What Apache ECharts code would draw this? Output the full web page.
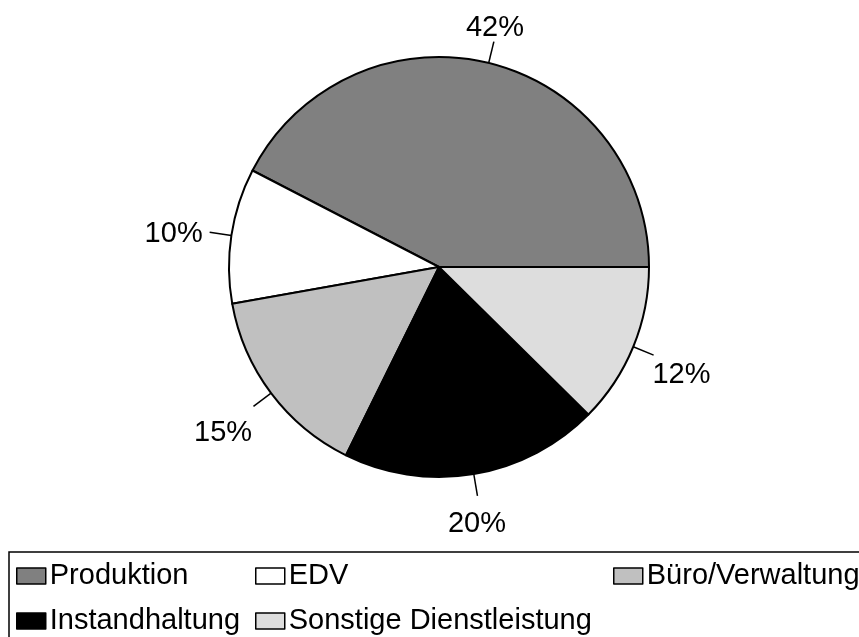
<!DOCTYPE html>
<html>
<head>
<meta charset="utf-8">
<script src="https://cdn.jsdelivr.net/npm/echarts@6/dist/echarts.min.js"></script>
<style>
html,body{margin:0;padding:0;background:#fff;}
#chart{width:859px;height:637px;}
</style>
</head>
<body>
<div id="chart"></div>
<script>
const categories = ['Produktion', 'EDV', 'Büro/Verwaltung', 'Instandhaltung', 'Sonstige Dienstleistung'];
const shares = [42.4, 10.4, 14.9, 19.9, 12.4];
const colors = ['#808080', '#ffffff', '#c0c0c0', '#000000', '#dddddd'];

const FONT = '"Liberation Sans", Arial, sans-serif';
const chart = echarts.init(document.getElementById('chart'), null, {renderer: 'canvas'});

const legendBase = {
  orient: 'vertical',
  itemWidth: 29,
  itemHeight: 16,
  itemGap: 13,
  icon: 'rect',
  selectedMode: false,
  padding: 0,
  textStyle: {fontSize: 29, fontFamily: FONT, color: '#000', padding: [0, 0, 0, -1], lineHeight: 32},
  itemStyle: {borderColor: '#000', borderWidth: 1.5}
};

chart.setOption({
  animation: false,
  backgroundColor: '#fff',
  color: colors,
  graphic: [{
    type: 'rect',
    shape: {x: 9, y: 552, width: 900, height: 120},
    style: {fill: 'none', stroke: '#000', lineWidth: 1.5},
    z: -1
  }],
  legend: [
    Object.assign({}, legendBase, {left: 16, top: 560, data: [categories[0], categories[3]]}),
    Object.assign({}, legendBase, {left: 255, top: 560, data: [categories[1], categories[4]]}),
    Object.assign({}, legendBase, {left: 613, top: 560, data: [categories[2]]})
  ],
  series: [{
    type: 'pie',
    center: [439, 267],
    radius: 210,
    startAngle: 0,
    clockwise: false,
    avoidLabelOverlap: false,
    itemStyle: {borderColor: '#000', borderWidth: 2},
    emphasis: {disabled: true},
    label: {
      show: true,
      position: 'outside',
      formatter: p => Math.round(p.value) + '%',
      fontSize: 29,
      fontFamily: FONT,
      color: '#000',
      distanceToLabelLine: 0
    },
    labelLine: {
      show: true,
      length: 22,
      length2: 0,
      lineStyle: {color: '#000', width: 1.5}
    },
    labelLayout: function (p) {
      const pts = p.labelLinePoints;
      if (!pts) return {};
      const s = pts[0], e = pts[pts.length - 1];
      let dx = e[0] - s[0], dy = e[1] - s[1];
      const len = Math.hypot(dx, dy) || 1;
      dx /= len; dy /= len;
      const hw = p.labelRect.width / 2, hh = 18;
      const t = Math.min(Math.abs(dx) > 1e-6 ? hw / Math.abs(dx) : 1e9,
                         Math.abs(dy) > 1e-6 ? hh / Math.abs(dy) : 1e9) + 3;
      return {
        x: e[0] + dx * t - 4,
        y: e[1] + dy * t + 7,
        align: 'center',
        verticalAlign: 'middle',
        labelLinePoints: pts
      };
    },
    data: categories.map((c, i) => ({name: c, value: shares[i]}))
  }]
});
</script>
</body>
</html>
